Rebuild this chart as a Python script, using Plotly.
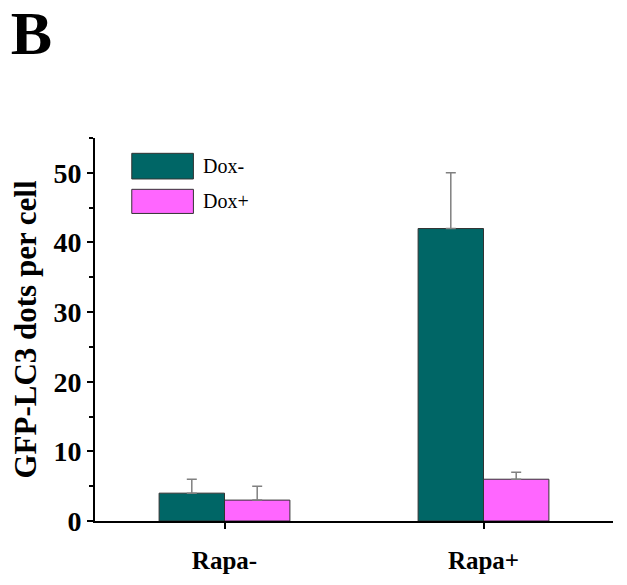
import plotly.graph_objects as go

categories = ["Rapa-", "Rapa+"]
dox_minus = [4, 42]
dox_minus_err = [2, 8]
dox_plus = [3, 6]
dox_plus_err = [2, 1]
series_names = ["Dox-", "Dox+"]
y_ticks = [0, 10, 20, 30, 40, 50]

TEAL = "#006666"
PINK = "#ff66ff"
FONT = "Liberation Serif"

fig = go.Figure()
for name, vals, errs, col in [
    (series_names[0], dox_minus, dox_minus_err, TEAL),
    (series_names[1], dox_plus, dox_plus_err, PINK),
]:
    fig.add_trace(go.Bar(
        x=categories, y=vals, name=name,
        marker=dict(color=col, line=dict(color="#333333", width=1)),
        error_y=dict(type="data", array=errs, arrayminus=[0] * len(errs),
                     symmetric=False, color="#808080", thickness=1.5, width=5),
        showlegend=False,
    ))

fig.update_layout(
    width=627, height=585,
    margin=dict(l=95, r=14, t=138, b=64),
    paper_bgcolor="white", plot_bgcolor="white",
    barmode="group", bargap=0.495, bargroupgap=0,
    font=dict(family=FONT, color="black"),
    title=dict(text="<b>B</b>", font=dict(family=FONT, size=62, color="black"),
               x=0.017, xanchor="left", xref="container",
               y=0.982, yanchor="top", yref="container"),
)

fig.update_xaxes(
    range=[-0.5, 1.5], showline=True, linecolor="black", linewidth=2,
    ticks="outside", ticklen=6, tickwidth=2, tickcolor="black",
    tickfont=dict(family=FONT, size=25, color="black"),
    tickvals=categories, ticktext=["<b>%s</b>" % c for c in categories],
    ticklabelstandoff=10,
    showgrid=False, zeroline=False,
)
fig.update_yaxes(
    range=[0, 55], showline=True, linecolor="black", linewidth=2,
    ticks="outside", ticklen=6, tickwidth=2, tickcolor="black",
    tickvals=y_ticks, ticktext=["<b>%d</b>" % v for v in y_ticks],
    tickfont=dict(family=FONT, size=28, color="black"),
    minor=dict(dtick=5, ticks="outside", ticklen=4, tickwidth=2, tickcolor="black"),
    showgrid=False, zeroline=False,
    title=dict(text="<b>GFP-LC3 dots per cell</b>",
               font=dict(family=FONT, size=31, color="black"), standoff=8),
)

# legend drawn as boxes + labels
legend_rows = [(series_names[0], TEAL, 0.960, 0.893), (series_names[1], PINK, 0.866, 0.803)]
for name, col, y1, y0 in legend_rows:
    fig.add_shape(type="rect", xref="paper", yref="paper",
                  x0=0.071, x1=0.19, y0=y0, y1=y1,
                  fillcolor=col, line=dict(color="#333333", width=1))
    fig.add_annotation(text=name, xref="paper", yref="paper",
                       x=0.204, y=(y0 + y1) / 2, xanchor="left", yanchor="middle",
                       showarrow=False, font=dict(family=FONT, size=20, color="black"))

fig.write_html("out.html", config={"displayModeBar": False},
               post_script="document.body.style.margin='0px';")
